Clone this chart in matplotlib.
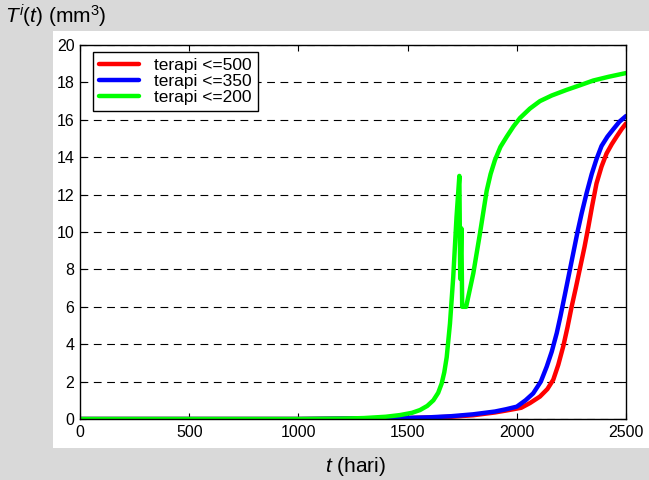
import matplotlib
matplotlib.use("Agg")
import matplotlib.pyplot as plt
from matplotlib.patches import Rectangle

plt.rcParams["font.family"] = ["Liberation Sans", "DejaVu Sans"]
plt.rcParams["mathtext.fontset"] = "custom"
plt.rcParams["mathtext.rm"] = "Liberation Sans"
plt.rcParams["mathtext.it"] = "Liberation Sans:italic"

# Tumour volume curves for the three therapy thresholds
t_500 = [0, 1000, 1300, 1500, 1600, 1700, 1800, 1900, 1950, 2020, 2060, 2106,
         2140, 2167, 2190, 2213, 2232, 2251, 2270, 2290, 2310, 2328, 2345,
         2365, 2388, 2411, 2435, 2457, 2480, 2500]
T_500 = [0, 0.0, 0.03, 0.05, 0.08, 0.12, 0.2, 0.35, 0.45, 0.6, 0.85, 1.2,
         1.6, 2.1, 2.9, 3.9, 4.9, 6.0, 7.0, 8.1, 9.2, 10.3, 11.4,
         12.6, 13.5, 14.2, 14.7, 15.1, 15.5, 15.8]

t_350 = [0, 1000, 1300, 1500, 1600, 1700, 1800, 1900, 1950, 2000, 2040, 2075,
         2110, 2137, 2160, 2183, 2200, 2221, 2240, 2259, 2278, 2297, 2320,
         2343, 2365, 2388, 2415, 2442, 2470, 2500]
T_350 = [0, 0.0, 0.03, 0.06, 0.09, 0.15, 0.25, 0.4, 0.52, 0.66, 1.0, 1.37,
         2.0, 2.8, 3.6, 4.6, 5.5, 6.7, 7.8, 8.9, 10.0, 11.0, 12.1,
         13.1, 13.9, 14.6, 15.1, 15.5, 15.9, 16.2]

t_200 = [0, 1000, 1200, 1300, 1400, 1465, 1520, 1557, 1590, 1618, 1640, 1656,
         1668, 1679, 1694, 1709, 1724, 1737, 1741, 1746, 1750, 1768, 1801,
         1831, 1862, 1880, 1900, 1925, 1954, 1985, 2015, 2060, 2106, 2160,
         2228, 2290, 2350, 2420, 2500]
T_200 = [0, 0.0, 0.02, 0.05, 0.12, 0.21, 0.33, 0.48, 0.7, 1.0, 1.4, 1.9,
         2.5, 3.3, 5.1, 7.6, 10.8, 13.0, 7.5, 10.2, 6.0, 6.0, 7.8,
         9.9, 12.2, 13.1, 13.85, 14.55, 15.1, 15.65, 16.1, 16.6, 17.0, 17.3,
         17.6, 17.85, 18.1, 18.3, 18.5]

labels = ["terapi <=500", "terapi <=350", "terapi <=200"]
colors = ["#ff0000", "#0000ff", "#00ff00"]

x_ticks = [0, 500, 1000, 1500, 2000, 2500]
y_ticks = [0, 2, 4, 6, 8, 10, 12, 14, 16, 18, 20]

fig = plt.figure(figsize=(6.49, 4.8), dpi=100)
fig.patch.set_facecolor("#d9d9d9")
fig.patches.append(Rectangle((53 / 649, 32 / 480), 1 - 53 / 649, 417 / 480,
                             transform=fig.transFigure, facecolor="white",
                             edgecolor="none", zorder=-5))

ax = fig.add_axes([80 / 649, 61 / 480, 546 / 649, 374 / 480])
ax.set_zorder(2)
ax.set_facecolor("white")

for tx, ty, lab, col in zip([t_500, t_350, t_200], [T_500, T_350, T_200],
                            labels, colors):
    ax.plot(tx, ty, color=col, lw=3.2, label=lab, solid_joinstyle="round",
            solid_capstyle="round")

ax.set_xlim(0, 2500)
ax.set_ylim(0, 20)
ax.set_xticks(x_ticks)
ax.set_yticks(y_ticks)
ax.tick_params(direction="in", length=4, width=0.8, top=True, right=True,
               labelsize=11.5, colors="black", pad=4)
ax.yaxis.grid(True, linestyle=(0, (7, 5)), color="black", lw=0.8)
for s in ax.spines.values():
    s.set_linewidth(1.0)
    s.set_color("black")

leg = ax.legend(loc="upper left", bbox_to_anchor=(0.024, 0.981),
                borderaxespad=0, fancybox=False, edgecolor="black",
                framealpha=1, fontsize=12.5, handlelength=2.3, handletextpad=0.9,
                labelspacing=0.05, borderpad=0.33)
leg.get_frame().set_linewidth(1.0)

fig.text(5 / 649, 1 - 16 / 480, r"$T^{i}(t)$ (mm$^{3}$)", fontsize=15,
         ha="left", va="center")
fig.text(355 / 649, 1 - 467 / 480, r"$t$ (hari)", fontsize=15,
         ha="center", va="center")

fig.savefig("out.png", dpi=100, facecolor=fig.get_facecolor())
